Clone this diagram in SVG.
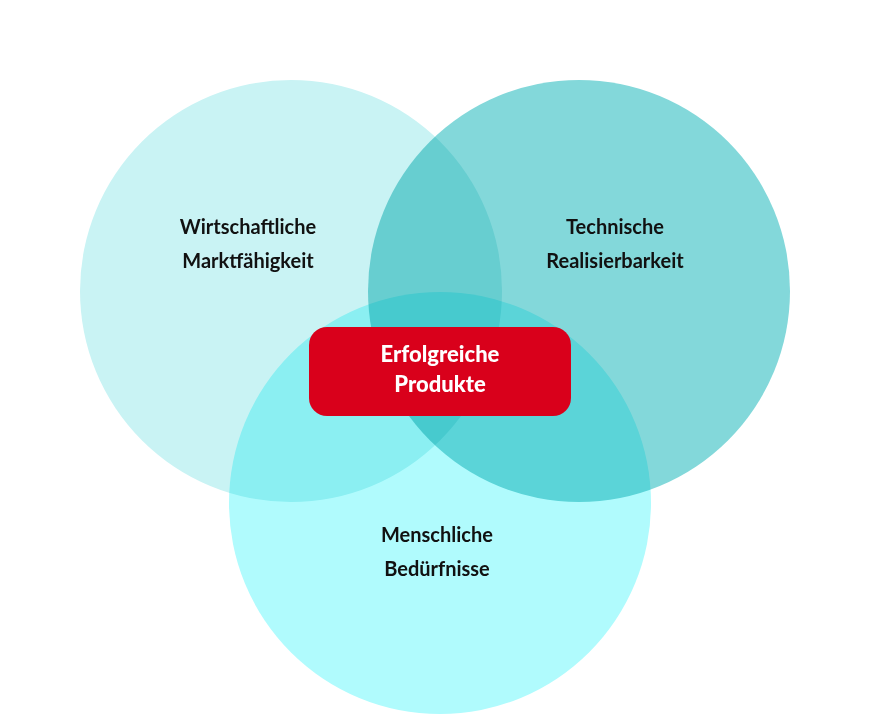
<svg xmlns="http://www.w3.org/2000/svg" width="872" height="717" viewBox="0 0 872 717">
<style>
.c{mix-blend-mode:multiply}
.l{font-family:"Lato","Liberation Sans",sans-serif;font-weight:bold;font-size:20px;fill:#111;text-anchor:middle}
.w{font-family:"Lato","Liberation Sans",sans-serif;font-weight:900;font-size:22px;fill:#fff;text-anchor:middle}
</style>
<rect width="872" height="717" fill="#fff"/>
<g style="isolation:isolate">
<g id="wirtschaft"><circle class="c" cx="291" cy="291" r="211" fill="#c9f3f4"/></g>
<g id="technik"><circle class="c" cx="579" cy="291" r="211" fill="#83d8da"/></g>
<g id="mensch"><circle class="c" cx="440" cy="503" r="211" fill="#b0fbfd"/></g>
</g>
<text class="l" x="248" y="234">Wirtschaftliche</text>
<text class="l" x="248" y="268">Marktfähigkeit</text>
<text class="l" x="615" y="234">Technische</text>
<text class="l" x="615" y="268">Realisierbarkeit</text>
<text class="l" x="437" y="542">Menschliche</text>
<text class="l" x="437" y="576">Bedürfnisse</text>
<g id="center">
<rect x="309" y="327" width="262" height="89" rx="18" fill="#d9001b"/>
<text class="w" x="440" y="362">Erfolgreiche</text>
<text class="w" x="440" y="392">Produkte</text>
</g>
<g id="connectors"/>
</svg>
